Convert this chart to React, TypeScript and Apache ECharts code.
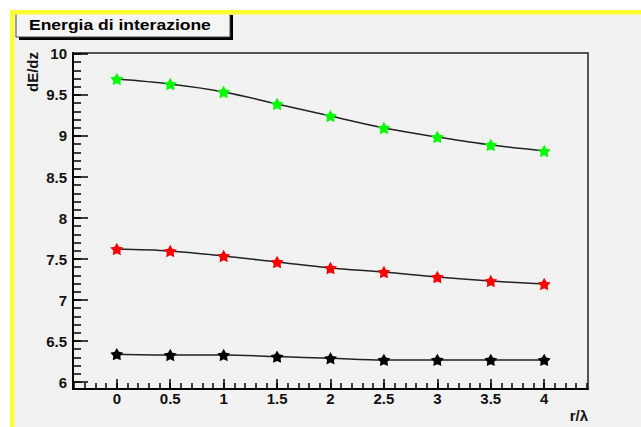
import React, { useEffect, useRef } from "react";
import * as echarts from "echarts";

// ---- data ----
const rValues = [0, 0.5, 1, 1.5, 2, 2.5, 3, 3.5, 4];
const greenSeries = [9.695, 9.634, 9.537, 9.39, 9.244, 9.098, 8.988, 8.89, 8.817];
const redSeries = [7.622, 7.598, 7.537, 7.463, 7.39, 7.341, 7.28, 7.232, 7.195];
const blackSeries = [6.34, 6.33, 6.33, 6.31, 6.29, 6.27, 6.27, 6.27, 6.27];
const xMajorTicks = [0, 0.5, 1, 1.5, 2, 2.5, 3, 3.5, 4];
const xMinorTicks = [-0.4, -0.3, -0.2, -0.1, 0, 0.1, 0.2, 0.3, 0.4, 0.5, 0.6, 0.7, 0.8, 0.9, 1, 1.1, 1.2, 1.3, 1.4, 1.5, 1.6, 1.7, 1.8, 1.9, 2, 2.1, 2.2, 2.3, 2.4, 2.5, 2.6, 2.7, 2.8, 2.9, 3, 3.1, 3.2, 3.3, 3.4, 3.5, 3.6, 3.7, 3.8, 3.9, 4, 4.1, 4.2, 4.3, 4.4];
const yMajorTicks = [6, 6.5, 7, 7.5, 8, 8.5, 9, 9.5, 10];
const yMinorTicks = [6, 6.1, 6.2, 6.3, 6.4, 6.5, 6.6, 6.7, 6.8, 6.9, 7, 7.1, 7.2, 7.3, 7.4, 7.5, 7.6, 7.7, 7.8, 7.9, 8, 8.1, 8.2, 8.3, 8.4, 8.5, 8.6, 8.7, 8.8, 8.9, 9, 9.1, 9.2, 9.3, 9.4, 9.5, 9.6, 9.7, 9.8, 9.9, 10];
const chartTitle = "Energia di interazione";
const xTitle = "r/λ";
const yTitle = "dE/dz";

// five-pointed star marker
const starPath = (() => {
  const pts: string[] = [];
  for (let k = 0; k < 10; k++) {
    const a = -Math.PI / 2 + (k * Math.PI) / 5;
    const r = k % 2 === 0 ? 50 : 27;
    const x = (50 + r * Math.cos(a)).toFixed(2);
    const y = (50 + r * Math.sin(a)).toFixed(2);
    pts.push((k === 0 ? "M" : "L") + x + " " + y);
  }
  return "path://" + pts.join(" ") + " Z";
})();

const FONT = "'Liberation Sans', Arial, Helvetica, sans-serif";

function makeSeries(values: number[], color: string) {
  return {
    type: "line",
    xAxisIndex: 0,
    yAxisIndex: 0,
    data: rValues.map((x, i) => [x, values[i]]),
    smooth: 0.35,
    symbol: starPath,
    symbolSize: 13,
    symbolKeepAspect: true,
    showSymbol: true,
    lineStyle: { color: "#222", width: 1.5 },
    itemStyle: { color, borderWidth: 0 },
    emphasis: { disabled: true },
  };
}

export default function App() {
  const ref = useRef<HTMLDivElement>(null);
  useEffect(() => {
    if (!ref.current) return;
    const chart = echarts.init(ref.current, undefined, { renderer: "svg" });
    const labelStyle = {
      fontFamily: FONT,
      fontWeight: "bold" as const,
      fontSize: 15,
      color: "#111",
    };
    chart.setOption({
      animation: false,
      backgroundColor: "#f2f2f2",
      grid: {
        left: 73,
        top: 53,
        width: 515,
        height: 336,
        show: true,
        borderColor: "#222",
        borderWidth: 1.5,
        backgroundColor: "transparent",
        containLabel: false,
        outerBoundsMode: "none",
      },
      xAxis: [
        {
          type: "value",
          position: "bottom",
          min: -0.41,
          max: 4.41,
          axisLine: { show: true, onZero: false, lineStyle: { color: "#000", width: 2 } },
          axisTick: {
            show: true,
            inside: true,
            length: 10,
            customValues: xMajorTicks,
            lineStyle: { color: "#000", width: 1.5 },
          },
          axisLabel: {
            show: true,
            customValues: xMajorTicks,
            margin: 2,
            ...labelStyle,
          },
          splitLine: { show: false },
          name: xTitle,
          nameLocation: "end",
          nameGap: 0,
          nameTextStyle: {
            ...labelStyle,
            align: "right",
            verticalAlign: "top",
            padding: [19, 0, 0, 0],
          },
        },
        {
          type: "value",
          position: "bottom",
          min: -0.41,
          max: 4.41,
          axisLine: { show: false, onZero: false },
          axisTick: {
            show: true,
            inside: true,
            length: 6,
            customValues: xMinorTicks,
            lineStyle: { color: "#000", width: 1.5 },
          },
          axisLabel: { show: false },
          splitLine: { show: false },
        },
      ],
      yAxis: [
        {
          type: "value",
          position: "left",
          min: 5.915,
          max: 10.012,
          axisLine: { show: true, onZero: false, lineStyle: { color: "#000", width: 2 } },
          axisTick: {
            show: true,
            inside: true,
            length: 15,
            customValues: yMajorTicks,
            lineStyle: { color: "#000", width: 1.5 },
          },
          axisLabel: {
            show: true,
            customValues: yMajorTicks,
            margin: 6,
            ...labelStyle,
          },
          splitLine: { show: false },
        },
        {
          type: "value",
          position: "left",
          min: 5.915,
          max: 10.012,
          axisLine: { show: false, onZero: false },
          axisTick: {
            show: true,
            inside: true,
            length: 8,
            customValues: yMinorTicks,
            lineStyle: { color: "#000", width: 1.5 },
          },
          axisLabel: { show: false },
          splitLine: { show: false },
        },
      ],
      graphic: [
        // white outer margins
        { type: "rect", z: 200, shape: { x: 0, y: 0, width: 641, height: 10 }, style: { fill: "#fff" } },
        { type: "rect", z: 200, shape: { x: 0, y: 0, width: 10, height: 427 }, style: { fill: "#fff" } },
        // title box shadow
        { type: "rect", z: 150, shape: { x: 19, y: 15, width: 214, height: 25 }, style: { fill: "#000" } },
        // title box
        { type: "rect", z: 151, shape: { x: 16, y: 12, width: 214, height: 25 }, style: { fill: "#f5f5f5", stroke: "#444", lineWidth: 1 } },
        {
          type: "text",
          z: 152,
          x: 29,
          y: 24,
          scaleX: 1.167,
          style: {
            text: chartTitle,
            font: "bold 15px " + FONT,
            fill: "#000",
            textAlign: "left",
            textVerticalAlign: "middle",
          },
        },
        // yellow border
        { type: "rect", z: 210, shape: { x: 10, y: 10, width: 631, height: 4.5 }, style: { fill: "#ffff33" } },
        { type: "rect", z: 210, shape: { x: 10, y: 10, width: 4.5, height: 417 }, style: { fill: "#ffff33" } },
        // y axis title
        {
          type: "text",
          z: 152,
          x: 32,
          y: 52,
          rotation: Math.PI / 2,
          style: {
            text: yTitle,
            font: "bold 15px " + FONT,
            fill: "#111",
            textAlign: "right",
            textVerticalAlign: "middle",
          },
        },
      ],
      series: [
        makeSeries(greenSeries, "#00ff00"),
        makeSeries(redSeries, "#ff0000"),
        makeSeries(blackSeries, "#000000"),
      ],
    });
    return () => chart.dispose();
  }, []);
  return (
    <div
      ref={ref}
      style={{ position: "fixed", left: 0, top: 0, width: 641, height: 427 }}
    />
  );
}
